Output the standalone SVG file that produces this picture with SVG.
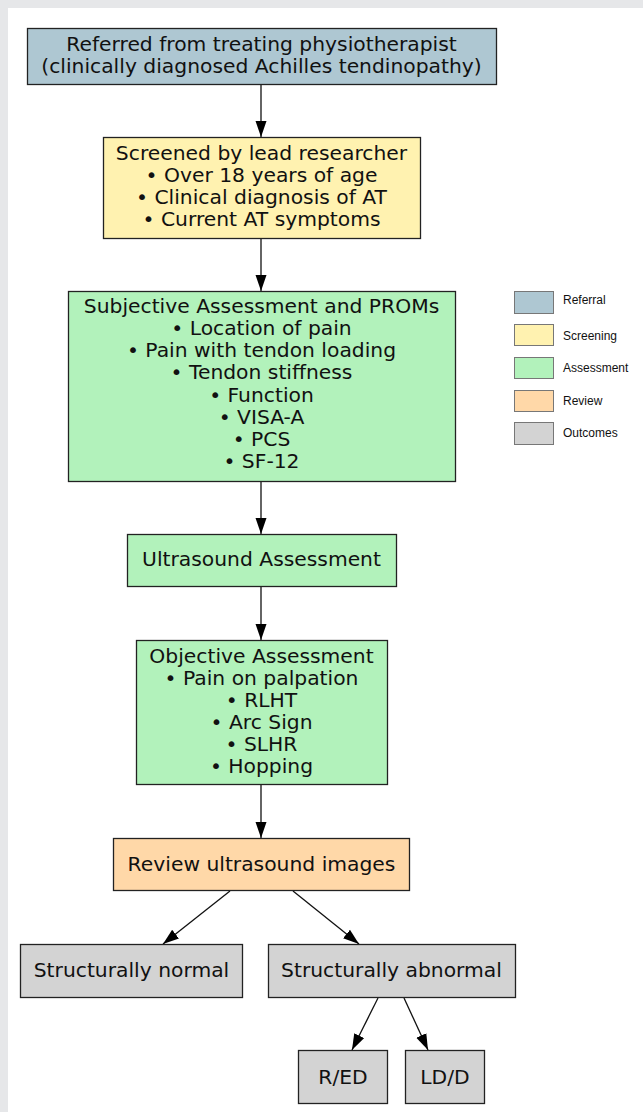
<svg xmlns="http://www.w3.org/2000/svg" width="643" height="1112" viewBox="0 0 643 1112">
<defs>
<style>
.n{stroke:#222;stroke-width:1.3}
.t{font-family:"DejaVu Sans",sans-serif;font-size:20.3px;fill:#111;text-anchor:middle}
.l{font-family:"Liberation Sans",Arial,sans-serif;font-size:12px;fill:#111}
.c{stroke:#111;stroke-width:1.3;fill:none;marker-end:url(#ah2)}
.ref{fill:#aec7d2}.scr{fill:#fff2b0}.ass{fill:#b2f2bb}.rev{fill:#ffd8a8}.out{fill:#d3d3d3}
.sw{stroke:#777;stroke-width:1}
</style>
<marker id="ah2" markerUnits="userSpaceOnUse" markerWidth="16" markerHeight="12" viewBox="0 0 16 12" refX="16" refY="6" orient="auto">
<path d="M0,0.5 L16,6 L0,11.5 z" fill="#000"/>
</marker>
</defs>
<rect x="0" y="0" width="643" height="1112" fill="#e6e7e9"/>
<rect x="8" y="8" width="635" height="1104" fill="#fff"/>

<g id="connectors">
<path class="c" d="M261,84 L261,137"/>
<path class="c" d="M261,238 L261,291"/>
<path class="c" d="M261,481 L261,534"/>
<path class="c" d="M261,586 L261,640"/>
<path class="c" d="M261,784 L261,838"/>
<path class="c" d="M230,891 L163,944"/>
<path class="c" d="M293,891 L359,944"/>
<path class="c" d="M378,998 L352,1050"/>
<path class="c" d="M404,998 L428,1050"/>
</g>

<g id="referral">
<rect class="n ref" x="27.5" y="28.5" width="469" height="56"/>
<text class="t" x="261.5" y="51">Referred from treating physiotherapist</text>
<text class="t" x="261.5" y="73">(clinically diagnosed Achilles tendinopathy)</text>
</g>

<g id="screening">
<rect class="n scr" x="103.5" y="137.5" width="317" height="101"/>
<text class="t" x="261.5" y="160">Screened by lead researcher</text>
<text class="t" x="261.5" y="182">• Over 18 years of age</text>
<text class="t" x="261.5" y="204">• Clinical diagnosis of AT</text>
<text class="t" x="261.5" y="226">• Current AT symptoms</text>
</g>

<g id="subjective">
<rect class="n ass" x="68.5" y="291.5" width="387" height="190"/>
<text class="t" x="261.5" y="313">Subjective Assessment and PROMs</text>
<text class="t" x="261.5" y="335">• Location of pain</text>
<text class="t" x="261.5" y="357">• Pain with tendon loading</text>
<text class="t" x="261.5" y="379">• Tendon stiffness</text>
<text class="t" x="261.5" y="402">• Function</text>
<text class="t" x="261.5" y="424">• VISA-A</text>
<text class="t" x="261.5" y="446">• PCS</text>
<text class="t" x="261.5" y="468">• SF-12</text>
</g>

<g id="ultrasound">
<rect class="n ass" x="127.5" y="534.5" width="269" height="52"/>
<text class="t" x="261.5" y="566">Ultrasound Assessment</text>
</g>

<g id="objective">
<rect class="n ass" x="136.5" y="640.5" width="251" height="144"/>
<text class="t" x="261.5" y="663">Objective Assessment</text>
<text class="t" x="261.5" y="685">• Pain on palpation</text>
<text class="t" x="261.5" y="707">• RLHT</text>
<text class="t" x="261.5" y="729">• Arc Sign</text>
<text class="t" x="261.5" y="751">• SLHR</text>
<text class="t" x="261.5" y="773">• Hopping</text>
</g>

<g id="review">
<rect class="n rev" x="113.5" y="838.5" width="296" height="52"/>
<text class="t" x="261.5" y="871">Review ultrasound images</text>
</g>

<g id="normal">
<rect class="n out" x="20.5" y="944.5" width="222" height="53"/>
<text class="t" x="131.5" y="977">Structurally normal</text>
</g>

<g id="abnormal">
<rect class="n out" x="268.5" y="944.5" width="247" height="53"/>
<text class="t" x="391.5" y="977">Structurally abnormal</text>
</g>

<g id="red">
<rect class="n out" x="298.5" y="1050.5" width="89" height="53"/>
<text class="t" x="343" y="1084">R/ED</text>
</g>

<g id="ldd">
<rect class="n out" x="405.5" y="1050.5" width="79" height="53"/>
<text class="t" x="445" y="1084">LD/D</text>
</g>

<g id="legend">
<rect class="sw ref" x="514.5" y="291.5" width="39" height="22"/>
<text class="l" x="563" y="304">Referral</text>
<rect class="sw scr" x="514.5" y="324.5" width="39" height="21"/>
<text class="l" x="563" y="340">Screening</text>
<rect class="sw ass" x="514.5" y="357.5" width="39" height="21"/>
<text class="l" x="563" y="372">Assessment</text>
<rect class="sw rev" x="514.5" y="390.5" width="39" height="21"/>
<text class="l" x="563" y="405">Review</text>
<rect class="sw out" x="514.5" y="422.5" width="39" height="22"/>
<text class="l" x="563" y="437">Outcomes</text>
</g>
</svg>
